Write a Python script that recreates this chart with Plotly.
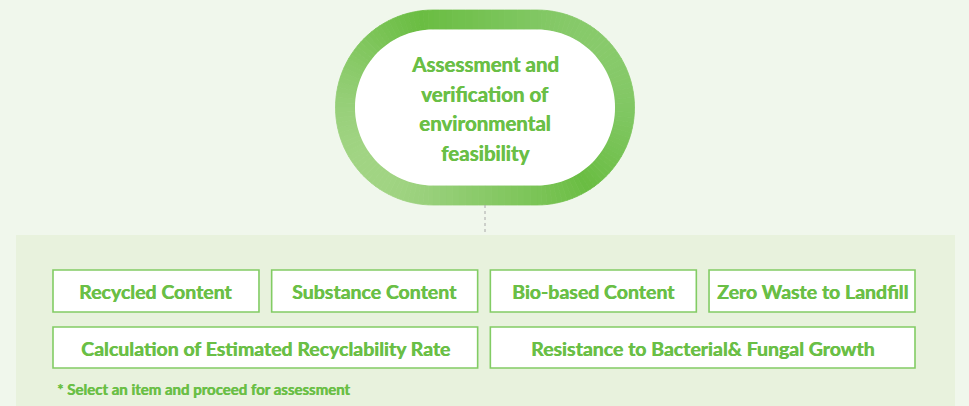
import numpy as np
import plotly.graph_objects as go

# ---- content ----
title_lines = ["Assessment and", "verification of", "environmental", "feasibility"]
row1_items = ["Recycled Content", "Substance Content", "Bio-based Content", "Zero Waste to Landfill"]
row2_items = ["Calculation of Estimated Recyclability Rate", "Resistance to Bacterial& Fungal Growth"]
footnote = "* Select an item and proceed for assessment"

W, H = 969, 406
BG = "#f0f7ec"
PANEL = "#e8f2dd"
TXT = "#6abf46"
BORDER = "#82cc64"
FONT = "Lato"
SHADOW = "0.5px 0 0 %s" % TXT

shapes = []
annotations = []

# background panel
shapes.append(dict(type="rect", x0=16, x1=955, y0=235, y1=H + 5,
                   fillcolor=PANEL, line_width=0, layer="below"))

# ---- pill ring with diagonal gradient ----
cxL, cxR, cy = 433.0, 537.0, 107.5
r_in, r_out = 78.0, 97.5
ccx = (cxL + cxR) / 2


def pt(seg, u, r):
    if seg == 0:
        return cxL + u * (cxR - cxL), cy - r
    if seg == 1:
        th = -np.pi / 2 + u * np.pi
        return cxR + r * np.cos(th), cy + r * np.sin(th)
    if seg == 2:
        return cxR - u * (cxR - cxL), cy + r
    th = np.pi / 2 + u * np.pi
    return cxL + r * np.cos(th), cy + r * np.sin(th)


stops = [(-1.0, (182, 222, 152)), (-0.55, (150, 207, 120)), (0.1, (106, 189, 66)),
         (0.55, (128, 199, 98)), (1.0, (150, 207, 122))]


def grad(t):
    t = max(-1.0, min(1.0, t))
    for (t0, c0), (t1, c1) in zip(stops[:-1], stops[1:]):
        if t0 <= t <= t1:
            f = (t - t0) / (t1 - t0)
            c = [round(a + (b - a) * f) for a, b in zip(c0, c1)]
            return "rgb(%d,%d,%d)" % tuple(c)
    return "rgb(%d,%d,%d)" % stops[-1][1]


nseg = {0: 16, 1: 60, 2: 16, 3: 60}
for seg in range(4):
    n = nseg[seg]
    for i in range(n):
        u0, u1 = i / n, (i + 1) / n
        a = pt(seg, u0, r_in)
        b = pt(seg, u1, r_in)
        c = pt(seg, u1, r_out)
        d = pt(seg, u0, r_out)
        mx, my = pt(seg, (u0 + u1) / 2, (r_in + r_out) / 2)
        proj = ((mx - ccx) - (my - cy)) / np.sqrt(2)
        col = grad(proj / 175.0)
        path = "M %.2f %.2f L %.2f %.2f L %.2f %.2f L %.2f %.2f Z" % (a + b + c + d)
        shapes.append(dict(type="path", path=path, fillcolor=col,
                           line=dict(color=col, width=0.8), layer="below"))

# inner white
inner = []
for seg in range(4):
    n = nseg[seg]
    for i in range(n):
        inner.append(pt(seg, i / n, r_in))
path = "M " + " L ".join("%.2f %.2f" % p for p in inner) + " Z"
shapes.append(dict(type="path", path=path, fillcolor="white", line_width=0, layer="below"))

# title text
for i, line in enumerate(title_lines):
    annotations.append(dict(x=ccx, y=64 + i * 29.7, xref="x", yref="y", text="<b>%s</b>" % line,
                            showarrow=False, xanchor="center", yanchor="middle",
                            font=dict(family=FONT, size=20.5, color=TXT, shadow=SHADOW)))

# connector
shapes.append(dict(type="line", x0=ccx, x1=ccx, y0=cy + r_out, y1=235,
                   line=dict(color="#a8a8a8", width=1, dash="dot")))

# ---- boxes ----
gx0, gx1 = 53, 915
ncol = 4
gap = 12.7
cw = (gx1 - gx0 - gap * (ncol - 1)) / ncol
rows = [(270, 312, row1_items, 1), (327, 368, row2_items, 2)]
for y0, y1, items, span in rows:
    for j, label in enumerate(items):
        c0 = j * span
        x0 = gx0 + c0 * (cw + gap)
        x1 = x0 + span * cw + (span - 1) * gap
        shapes.append(dict(type="rect", x0=x0, x1=x1, y0=y0, y1=y1, fillcolor="white",
                           line=dict(color=BORDER, width=1.6)))
        annotations.append(dict(x=(x0 + x1) / 2, y=(y0 + y1) / 2 + 0.5, xref="x", yref="y",
                                text="<b>%s</b>" % label, showarrow=False,
                                xanchor="center", yanchor="middle",
                                font=dict(family=FONT, size=19.5, color=TXT, shadow=SHADOW)))

annotations.append(dict(x=55, y=389, xref="x", yref="y", text="<b>%s</b>" % footnote,
                        showarrow=False, xanchor="left", yanchor="middle",
                        font=dict(family=FONT, size=15, color=TXT, shadow=SHADOW)))

fig = go.Figure()
fig.update_layout(width=W, height=H, autosize=False, margin=dict(l=0, r=0, t=0, b=0),
                  paper_bgcolor=BG, plot_bgcolor=BG, shapes=shapes, annotations=annotations,
                  showlegend=False)
fig.update_xaxes(range=[0, W], visible=False, fixedrange=True)
fig.update_yaxes(range=[H, 0], visible=False, fixedrange=True)
fig.write_html("out.html", config={"displayModeBar": False},
               post_script="document.body.style.margin='0';document.body.style.overflow='hidden';")
